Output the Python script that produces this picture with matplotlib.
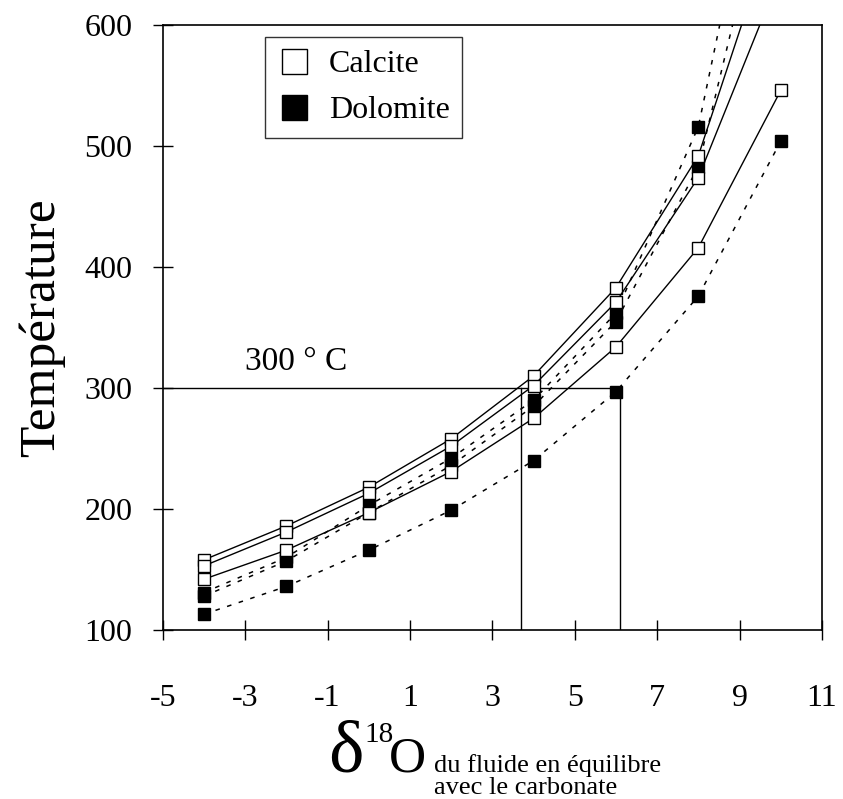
import matplotlib.pyplot as plt
from matplotlib.lines import Line2D

plt.rcParams['font.family'] = ['Liberation Serif', 'DejaVu Serif']

# delta18O du fluide (x) et temperatures
x_vals = [-4, -2, 0, 2, 4, 6, 8, 10]

calcite_1 = [158, 186, 218, 258, 310, 383, 492, 698]
calcite_2 = [153, 181, 213, 252, 302, 371, 474, 643]
calcite_3 = [142, 166, 197, 231, 275, 334, 416, 546]

dolomite_1 = [131, 160, 203, 242, 290, 362, 516, 840]
dolomite_2 = [128, 157, 197, 236, 285, 355, 483, 765]
dolomite_3 = [113, 136, 166, 199, 240, 297, 376, 504]

x_ticks = [-5, -3, -1, 1, 3, 5, 7, 9, 11]
y_ticks = [100, 200, 300, 400, 500, 600]

ref_temp = 300
ref_x = [3.7, 6.1]

fig = plt.figure(figsize=(8.43, 7.99), dpi=100)
ax = fig.add_axes([0.193, 0.2115, 0.782, 0.757])

dash = (0, (3, 5))
for serie in [dolomite_1, dolomite_2, dolomite_3]:
    ax.plot(x_vals, serie, color='black', lw=1.1, linestyle=dash,
            marker='s', ms=9, mfc='black', mec='black', zorder=2)
for serie in [calcite_1, calcite_2, calcite_3]:
    ax.plot(x_vals, serie, color='black', lw=1.0, linestyle='-',
            marker='s', ms=9, mfc='white', mec='black', mew=1.0, zorder=3)

# repere 300 °C
ax.plot([x_ticks[0], ref_x[1]], [ref_temp, ref_temp], color='black', lw=1.0, zorder=1)
for xr in ref_x:
    ax.plot([xr, xr], [y_ticks[0], ref_temp], color='black', lw=1.0, zorder=1)
ax.text(-3.0, 315, '300 ° C', fontsize=24, ha='left', va='baseline')

ax.set_xlim(-5, 11)
ax.set_ylim(100, 600)
ax.set_xticks(x_ticks)
ax.set_yticks(y_ticks)
ax.set_xticklabels([str(v) for v in x_ticks])
ax.tick_params(direction='inout', length=14, width=1.0, labelsize=23,
               top=False, right=False)
ax.tick_params(axis='x', pad=32)
ax.tick_params(axis='y', pad=15)
for s in ax.spines.values():
    s.set_linewidth(1.2)

ax.set_ylabel('Température', fontsize=37, labelpad=14)

handles = [
    Line2D([], [], linestyle='none', marker='s', ms=18, mfc='white', mec='black', mew=1.0),
    Line2D([], [], linestyle='none', marker='s', ms=18, mfc='black', mec='black'),
]
leg = ax.legend(handles, ['Calcite', 'Dolomite'], loc='upper left',
                bbox_to_anchor=(0.155, 0.98), fontsize=23, frameon=True,
                fancybox=False, borderaxespad=0, handlelength=1.0,
                handletextpad=0.6, borderpad=0.4, labelspacing=0.5)
leg.get_frame().set_edgecolor('black')
leg.get_frame().set_linewidth(1.0)

# titre de l'axe x
base1 = 1 - 772 / 799
base2 = 1 - 794 / 799
fig.text(328 / 843, base1, 'δ', fontsize=54, ha='left', va='baseline')
fig.text(364 / 843, 1 - 742 / 799, '18', fontsize=21, ha='left', va='baseline')
fig.text(389 / 843, base1, 'O', fontsize=37, ha='left', va='baseline')
fig.text(434 / 843, base1, 'du fluide en équilibre', fontsize=19,
         ha='left', va='baseline')
fig.text(434 / 843, base2, 'avec le carbonate', fontsize=19,
         ha='left', va='baseline')

fig.savefig('out.png', dpi=100)
